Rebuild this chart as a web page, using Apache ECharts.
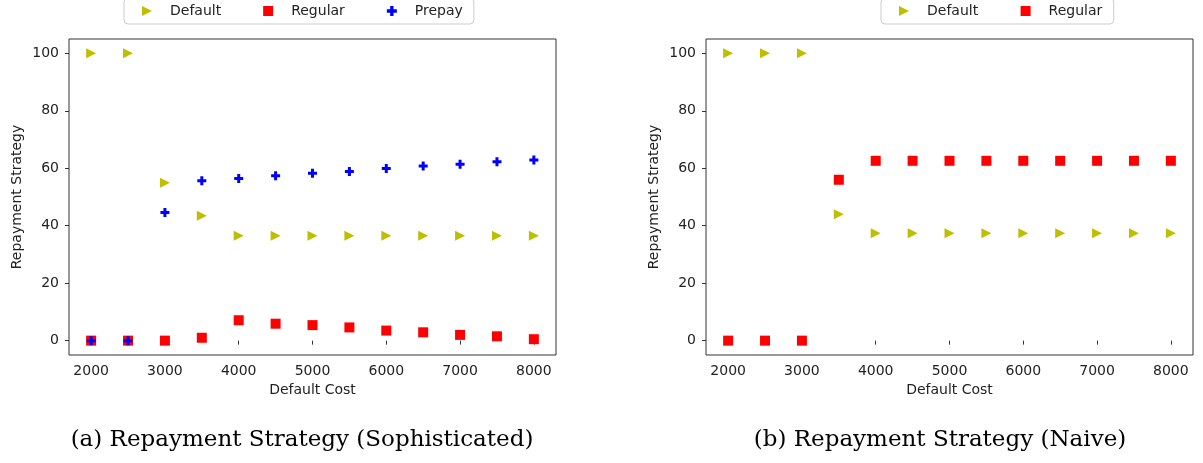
<!DOCTYPE html>
<html>
<head>
<meta charset="utf-8">
<script src="https://cdn.jsdelivr.net/npm/echarts@6/dist/echarts.min.js"></script>
<style>
  html, body { margin: 0; padding: 0; background: #fff; }
  #chart { width: 1203px; height: 463px; }
</style>
</head>
<body>
<div id="chart"></div>
<script>
// Default cost levels on the x axis
const costs = [2000, 2500, 3000, 3500, 4000, 4500, 5000, 5500, 6000, 6500, 7000, 7500, 8000];

// (a) Sophisticated borrower: share of each repayment strategy (%)
const sophDefault = [100, 100, 55.0, 43.5, 36.5, 36.5, 36.5, 36.5, 36.5, 36.5, 36.5, 36.5, 36.5];
const sophRegular = [0, 0, 0, 1.0, 7.1, 5.9, 5.4, 4.6, 3.5, 2.9, 2.0, 1.5, 0.5];
const sophPrepay  = [0, 0, 44.6, 55.7, 56.4, 57.4, 58.3, 58.9, 59.9, 60.8, 61.4, 62.3, 62.9];

// (b) Naive borrower
const naiveDefault = [100, 100, 100, 44.0, 37.4, 37.4, 37.4, 37.4, 37.4, 37.4, 37.4, 37.4, 37.4];
const naiveRegular = [0, 0, 0, 56.0, 62.6, 62.6, 62.6, 62.6, 62.6, 62.6, 62.6, 62.6, 62.6];

// Tick labels
const xTicks = [2000, 3000, 4000, 5000, 6000, 7000, 8000];
const yTicks = [0, 20, 40, 60, 80, 100];

const captions = ['(a) Repayment Strategy (Sophisticated)', '(b) Repayment Strategy (Naive)'];

const pair = (ys) => costs.map((x, i) => [x, ys[i]]);

// Marker shapes: right-pointing triangle, filled square, thick plus
const TRI = 'path://M0,0L10,5L0,10Z';
const SQUARE = 'path://M0,0H10V10H0Z';
const PLUS = 'path://M3,0H6V3H9V6H6V9H3V6H0V3H3Z';
const YELLOW = '#bfbf00', RED = '#ff0000', BLUE = '#0000ff';
const INK = '#222';
const FONT = 'DejaVu Sans';

function xAxis(gridIndex) {
  return {
    type: 'value', gridIndex, min: 1700, max: 8300,
    name: 'Default Cost', nameLocation: 'middle', nameGap: 26,
    nameTextStyle: { fontFamily: FONT, fontSize: 14, color: INK },
    axisLine: { show: false },
    axisTick: { show: true, inside: false, length: 4, customValues: xTicks, lineStyle: { color: '#333', width: 1 } },
    axisLabel: { customValues: xTicks, margin: 9, fontFamily: FONT, fontSize: 14, color: INK, formatter: (v) => String(v) },
    splitLine: { show: false }
  };
}
function yAxis(gridIndex) {
  return {
    type: 'value', gridIndex, min: -5, max: 105,
    name: 'Repayment Strategy', nameLocation: 'middle', nameGap: 45, nameRotate: 90,
    nameTextStyle: { fontFamily: FONT, fontSize: 14, color: INK },
    axisLine: { show: false },
    axisTick: { show: true, inside: false, length: 4, customValues: yTicks, lineStyle: { color: '#333', width: 1 } },
    axisLabel: { customValues: yTicks, margin: 10, fontFamily: FONT, fontSize: 14, color: INK, formatter: (v) => String(v) },
    splitLine: { show: false }
  };
}
function scatter(name, data, idx, symbol, size, color) {
  return {
    type: 'scatter', name, data, xAxisIndex: idx, yAxisIndex: idx,
    symbol, symbolSize: size, symbolKeepAspect: true,
    itemStyle: { color, opacity: 1 },
    emphasis: { disabled: true },
    animation: false
  };
}
function legend(left, names, icons, gap, padRight) {
  return {
    left, top: -2, orient: 'horizontal',
    data: names.map((n, i) => ({ name: n, icon: icons[i] })),
    itemWidth: 36, itemHeight: 10, itemGap: gap,
    symbolKeepAspect: true,
    padding: [6, padRight, 6, 18],
    borderColor: '#cccccc', borderWidth: 1, borderRadius: 4,
    backgroundColor: '#fff',
    textStyle: { fontFamily: FONT, fontSize: 14, color: INK },
    selectedMode: false
  };
}

const chart = echarts.init(document.getElementById('chart'), null, { renderer: 'canvas' });
chart.setOption({
  animation: false,
  backgroundColor: '#ffffff',
  grid: [
    { left: 69, right: 647, top: 39, bottom: 108, show: true, borderColor: '#333', borderWidth: 1, backgroundColor: 'transparent' },
    { left: 706, right: 10, top: 39, bottom: 108, show: true, borderColor: '#333', borderWidth: 1, backgroundColor: 'transparent' }
  ],
  xAxis: [xAxis(0), xAxis(1)],
  yAxis: [yAxis(0), yAxis(1)],
  legend: [
    legend(124, ['Default', 'Regular', 'Prepay'], [TRI, SQUARE, PLUS], 42, 11),
    legend(881, ['Default ', 'Regular '], [TRI, SQUARE], 38, 7)
  ],
  series: [
    scatter('Default', pair(sophDefault), 0, TRI, 10, YELLOW),
    scatter('Regular', pair(sophRegular), 0, SQUARE, 10, RED),
    scatter('Prepay', pair(sophPrepay), 0, PLUS, 9, BLUE),
    scatter('Default ', pair(naiveDefault), 1, TRI, 10, YELLOW),
    scatter('Regular ', pair(naiveRegular), 1, SQUARE, 10, RED)
  ],
  graphic: [
    { type: 'text', x: 302, y: 440, style: { text: captions[0], font: '23px "DejaVu Serif"', fill: '#000', align: 'center', verticalAlign: 'middle' } },
    { type: 'text', x: 940, y: 440, style: { text: captions[1], font: '23px "DejaVu Serif"', fill: '#000', align: 'center', verticalAlign: 'middle' } }
  ]
});
</script>
</body>
</html>
